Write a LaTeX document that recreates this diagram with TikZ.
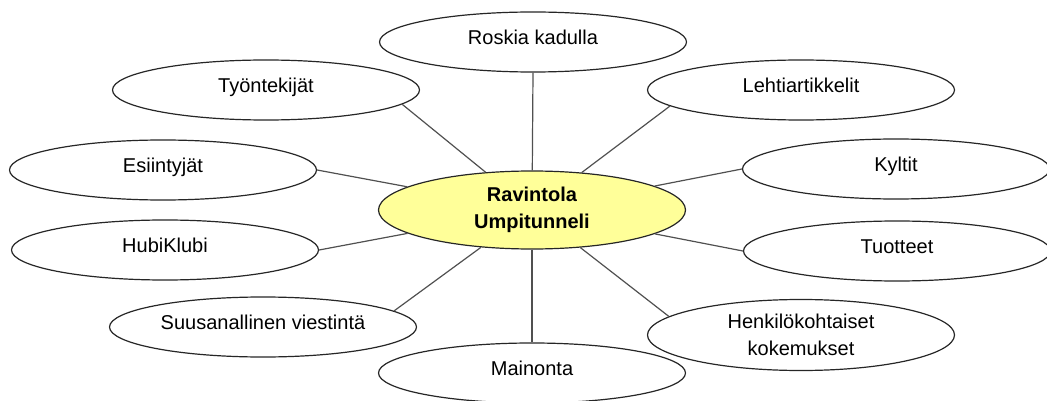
\documentclass[tikz,border=0pt]{standalone}
\usepackage{fontspec}
\setmainfont{Liberation Sans}
\usetikzlibrary{shapes.geometric}

\definecolor{hubfill}{RGB}{255,255,153}
\definecolor{linegray}{RGB}{80,80,80}

\begin{document}
\begin{tikzpicture}
[x=1pt,y=-1pt,%
  every node/.style={font=\fontsize{20}{27}\selectfont,align=center},
  topic/.style={ellipse,draw=black!85,line width=1.2pt,fill=white,
    minimum width=307pt,minimum height=60pt,inner sep=0pt},
  oneline/.style={topic,text height=14pt,text depth=9pt},
  hubnode/.style={topic,fill=hubfill,minimum height=78pt,font=\fontsize{20}{27}\selectfont\bfseries},
  link/.style={draw=linegray,line width=1.2pt}]
\useasboundingbox (0,0) rectangle (1047,401);
%% nodes
\node[hubnode] (hub) at (532,210) {Ravintola\\Umpitunneli};
\node[oneline] (rosk) at (533,42) {Roskia kadulla};
\node[oneline] (leht) at (801,90) {Lehtiartikkelit};
\node[oneline] (kyl) at (896,169) {Kyltit};
\node[oneline] (tuot) at (897,251) {Tuotteet};
\node[topic,minimum height=71pt] (henk) at (801,335) {Henkilökohtaiset\\kokemukset};
\node[oneline] (main) at (532,373) {Mainonta};
\node[oneline] (suus) at (263,327) {Suusanallinen viestintä};
\node[oneline] (hubi) at (165,250) {HubiKlubi};
\node[oneline] (esi) at (163,170) {Esiintyjät};
\node[oneline] (tyo) at (266,90) {Työntekijät};
%% connectors
\path[link]
(hub) edge (rosk.south)
(hub) edge (leht.187)
(hub) edge (kyl.west)
(hub) edge (tuot.west)
(hub) edge (henk.172)
(hub) edge (main.north)
(hub) edge (suus.7)
(hub) edge (hubi.east)
(hub) edge (esi.east)
(hub) edge (tyo.-6);
\end{tikzpicture}
\end{document}
